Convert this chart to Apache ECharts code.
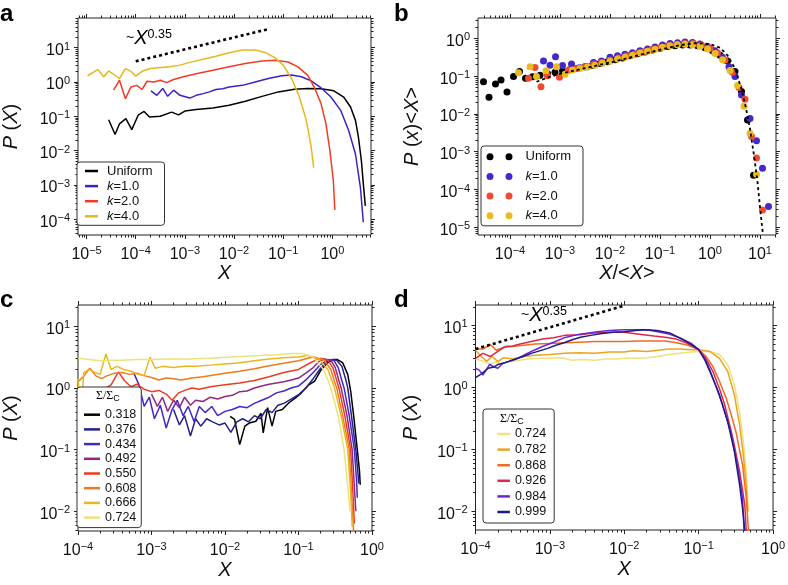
<!DOCTYPE html>
<html><head><meta charset="utf-8">
<script src="https://cdn.jsdelivr.net/npm/echarts@6/dist/echarts.min.js"></script>
<style>html,body{margin:0;padding:0;background:#fff}#c{width:788px;height:585px}</style>
</head><body><div id="c"></div><script>
// All values are log10 values read off the log–log panels: [log10 X, log10 P]
// ---- panel a ----
const a_uniform = [[-4.55,-1.10],[-4.42,-1.53],[-4.33,-1.22],[-4.20,-1.07],[-4.08,-1.39],[-3.95,-0.97],[-3.83,-0.86],[-3.72,-1.02],[-3.5,-1.0],[-3.27,-0.88],[-3.13,-0.96],[-3.0,-0.85],[-2.77,-0.80],[-2.43,-0.76],[-2.1,-0.68],[-1.77,-0.56],[-1.43,-0.42],[-1.1,-0.29],[-0.77,-0.21],[-0.5,-0.19],[-0.23,-0.20],[0.03,-0.26],[0.23,-0.44],[0.37,-0.73],[0.47,-1.12],[0.53,-1.61],[0.59,-2.29],[0.63,-2.97],[0.67,-3.61]];
const a_k1 = [[-3.69,-0.26],[-3.57,-0.39],[-3.45,-0.19],[-3.35,-0.42],[-3.23,-0.24],[-3.1,-0.39],[-2.9,-0.47],[-2.77,-0.39],[-2.63,-0.34],[-2.5,-0.29],[-2.37,-0.22],[-2.23,-0.20],[-2.1,-0.15],[-1.83,-0.10],[-1.57,0.0],[-1.3,0.10],[-1.03,0.18],[-0.83,0.20],[-0.63,0.15],[-0.43,0.03],[-0.23,-0.17],[-0.03,-0.44],[0.17,-0.83],[0.33,-1.41],[0.47,-2.10],[0.57,-3.07],[0.63,-4.09]];
const a_k2 = [[-4.45,-0.24],[-4.33,0.05],[-4.21,-0.49],[-4.1,-0.15],[-3.98,-0.10],[-3.87,-0.22],[-3.77,0.02],[-3.63,0.0],[-3.5,0.05],[-3.37,-0.02],[-3.23,0.07],[-3.03,0.15],[-2.77,0.24],[-2.43,0.34],[-2.1,0.44],[-1.77,0.54],[-1.43,0.61],[-1.17,0.63],[-0.9,0.58],[-0.7,0.44],[-0.5,0.19],[-0.37,-0.15],[-0.23,-0.63],[-0.13,-1.22],[-0.05,-2.0],[0.02,-2.88],[0.05,-3.73]];
const a_k4 = [[-4.98,0.18],[-4.77,0.36],[-4.65,0.15],[-4.55,0.32],[-4.33,0.10],[-4.21,0.39],[-4.1,0.31],[-4.0,0.17],[-3.87,0.31],[-3.7,0.39],[-3.5,0.42],[-3.3,0.44],[-3.1,0.49],[-2.9,0.57],[-2.63,0.66],[-2.37,0.75],[-2.1,0.85],[-1.83,0.93],[-1.57,0.93],[-1.37,0.86],[-1.17,0.71],[-1.0,0.49],[-0.83,0.10],[-0.67,-0.44],[-0.53,-1.12],[-0.43,-1.90],[-0.38,-2.50]];
const a_guide = [[-4.0,0.60],[-1.3,1.54]];
// ---- panel b (x = X/<X>) ----
const b_uniform = [[-4.53,-1.15],[-4.42,-1.56],[-4.29,-1.21],[-4.18,-1.10],[-4.06,-1.42],[-3.93,-1.01],[-3.81,-0.88],[-3.69,-1.06],[-3.55,-1.02],[-3.4,-0.98],[-3.25,-0.93],[-3.1,-0.9],[-2.95,-0.86],[-2.8,-0.83],[-2.65,-0.79],[-2.5,-0.75],[-2.35,-0.71],[-2.2,-0.67],[-2.05,-0.62],[-1.9,-0.57],[-1.75,-0.52],[-1.6,-0.46],[-1.45,-0.41],[-1.3,-0.36],[-1.15,-0.31],[-1.0,-0.26],[-0.85,-0.22],[-0.7,-0.2],[-0.55,-0.18],[-0.4,-0.18],[-0.25,-0.2],[-0.1,-0.25],[0.05,-0.33],[0.2,-0.45],[0.35,-0.6],[0.5,-0.88],[0.63,-1.41],[0.75,-2.16],[0.87,-3.62]];
const b_k1 = [[-3.33,-0.60],[-3.2,-0.71],[-3.09,-0.49],[-2.95,-0.72],[-2.77,-0.68],[-2.6,-0.78],[-2.45,-0.75],[-2.33,-0.64],[-2.17,-0.6],[-2.0,-0.5],[-1.85,-0.46],[-1.7,-0.42],[-1.55,-0.38],[-1.4,-0.33],[-1.25,-0.28],[-1.1,-0.23],[-0.95,-0.18],[-0.8,-0.14],[-0.65,-0.12],[-0.5,-0.1],[-0.35,-0.11],[-0.2,-0.15],[-0.05,-0.22],[0.1,-0.33],[0.25,-0.5],[0.38,-0.75],[0.5,-1.01],[0.63,-1.5],[0.8,-2.12],[0.93,-2.71],[1.05,-3.44],[1.17,-4.45]];
const b_k2 = [[-3.63,-1.06],[-3.5,-0.77],[-3.38,-1.28],[-3.25,-0.99],[-3.01,-1.03],[-2.83,-0.84],[-2.66,-0.8],[-2.5,-0.75],[-2.33,-0.69],[-2.17,-0.64],[-2.0,-0.58],[-1.83,-0.52],[-1.67,-0.47],[-1.5,-0.42],[-1.33,-0.36],[-1.17,-0.3],[-1.0,-0.25],[-0.83,-0.2],[-0.67,-0.16],[-0.5,-0.14],[-0.33,-0.14],[-0.17,-0.18],[0.0,-0.26],[0.15,-0.38],[0.3,-0.58],[0.45,-0.9],[0.58,-1.3],[0.7,-1.61],[0.83,-2.6],[0.93,-3.17],[1.05,-4.54]];
const b_k4 = [[-3.83,-0.91],[-3.6,-0.75],[-3.47,-1.01],[-3.28,-0.86],[-3.07,-0.75],[-2.9,-0.95],[-2.75,-0.84],[-2.6,-0.8],[-2.45,-0.76],[-2.3,-0.71],[-2.15,-0.66],[-2.0,-0.61],[-1.85,-0.55],[-1.7,-0.5],[-1.55,-0.45],[-1.4,-0.39],[-1.25,-0.34],[-1.1,-0.29],[-0.95,-0.24],[-0.8,-0.2],[-0.65,-0.17],[-0.5,-0.16],[-0.35,-0.17],[-0.2,-0.21],[-0.05,-0.28],[0.1,-0.4],[0.25,-0.57],[0.4,-0.85],[0.55,-1.25],[0.68,-1.8],[0.8,-2.51],[0.93,-3.6]];
const b_fit = [[-3.47,-1.15],[-3.2,-1.02],[-3.0,-0.94],[-2.5,-0.79],[-2.0,-0.64],[-1.5,-0.47],[-1.0,-0.3],[-0.6,-0.18],[-0.3,-0.13],[0.0,-0.15],[0.2,-0.25],[0.35,-0.45],[0.5,-0.8],[0.62,-1.3],[0.72,-1.85],[0.8,-2.4],[0.88,-3.1],[0.95,-3.8],[1.01,-4.6],[1.06,-5.2]];
// ---- panel c ----
const c_0318 = [[-1.93,-0.46],[-1.87,-0.51],[-1.8,-0.92],[-1.73,-0.62],[-1.67,-0.57],[-1.58,-0.54],[-1.51,-0.41],[-1.48,-0.73],[-1.42,-0.32],[-1.36,-0.62],[-1.31,-0.38],[-1.22,-0.35],[-1.13,-0.24],[-1.04,-0.16],[-0.96,-0.08],[-0.87,0.04],[-0.78,0.11],[-0.69,0.30],[-0.6,0.41],[-0.53,0.46],[-0.47,0.46],[-0.4,0.41],[-0.33,0.22],[-0.29,-0.05],[-0.25,-0.45],[-0.2,-1.0],[-0.17,-1.35],[-0.16,-1.57]];
const c_0376 = [[-2.7,-0.35],[-2.62,-0.6],[-2.55,-0.45],[-2.47,-0.78],[-2.4,-0.5],[-2.33,-0.62],[-2.25,-0.5],[-2.17,-0.55],[-2.08,-0.6],[-2.0,-0.57],[-1.92,-0.72],[-1.84,-0.55],[-1.76,-0.5],[-1.68,-0.55],[-1.6,-0.45],[-1.52,-0.5],[-1.44,-0.35],[-1.36,-0.4],[-1.28,-0.28],[-1.2,-0.25],[-1.1,-0.18],[-1.0,-0.11],[-0.9,0.0],[-0.8,0.15],[-0.7,0.32],[-0.62,0.42],[-0.55,0.46],[-0.48,0.45],[-0.41,0.35],[-0.36,0.15],[-0.33,0.0],[-0.28,-0.45],[-0.22,-1.0],[-0.19,-1.4],[-0.18,-1.55]];
const c_0434 = [[-3.24,0.24],[-3.17,0.05],[-3.1,-0.3],[-3.03,-0.15],[-2.96,-0.5],[-2.88,-0.28],[-2.8,-0.65],[-2.72,-0.35],[-2.65,-0.2],[-2.57,-0.45],[-2.5,-0.3],[-2.42,-0.55],[-2.35,-0.3],[-2.27,-0.4],[-2.18,-0.3],[-2.1,-0.45],[-2.0,-0.38],[-1.9,-0.35],[-1.8,-0.3],[-1.7,-0.32],[-1.6,-0.25],[-1.5,-0.2],[-1.4,-0.15],[-1.3,-0.08],[-1.2,-0.05],[-1.1,0.0],[-1.0,0.03],[-0.9,0.13],[-0.8,0.25],[-0.7,0.38],[-0.6,0.46],[-0.52,0.45],[-0.46,0.33],[-0.41,0.12],[-0.38,0.0],[-0.31,-0.45],[-0.24,-1.0],[-0.21,-1.5],[-0.2,-1.78]];
const c_0492 = [[-3.0,-0.1],[-2.92,-0.3],[-2.85,-0.15],[-2.78,-0.38],[-2.7,-0.2],[-2.62,-0.32],[-2.55,-0.15],[-2.47,-0.28],[-2.4,-0.2],[-2.3,-0.22],[-2.2,-0.15],[-2.1,-0.18],[-2.0,-0.14],[-1.9,-0.12],[-1.8,-0.06],[-1.7,-0.05],[-1.6,0.0],[-1.5,0.03],[-1.4,0.06],[-1.3,0.08],[-1.2,0.1],[-1.1,0.13],[-1.0,0.16],[-0.9,0.24],[-0.8,0.33],[-0.72,0.43],[-0.65,0.47],[-0.56,0.45],[-0.5,0.33],[-0.45,0.12],[-0.42,0.0],[-0.34,-0.45],[-0.27,-1.0],[-0.24,-1.6],[-0.22,-2.0]];
const c_0550 = [[-3.75,-0.05],[-3.65,-0.02],[-3.55,0.05],[-3.45,0.26],[-3.37,0.12],[-3.28,0.02],[-3.2,0.06],[-3.1,-0.02],[-3.0,-0.06],[-2.9,-0.04],[-2.8,-0.1],[-2.72,-0.2],[-2.63,-0.08],[-2.55,-0.04],[-2.45,0.0],[-2.35,-0.02],[-2.2,0.02],[-2.0,0.05],[-1.8,0.08],[-1.6,0.12],[-1.4,0.18],[-1.2,0.25],[-1.0,0.3],[-0.85,0.4],[-0.75,0.46],[-0.7,0.48],[-0.6,0.45],[-0.53,0.32],[-0.48,0.12],[-0.45,0.0],[-0.37,-0.45],[-0.29,-1.0],[-0.26,-1.7],[-0.24,-2.2]];
const c_0608 = [[-4.0,0.1],[-3.93,0.18],[-3.84,0.32],[-3.76,0.2],[-3.68,0.15],[-3.6,0.2],[-3.5,0.24],[-3.4,0.25],[-3.3,0.22],[-3.2,0.24],[-3.1,0.2],[-3.0,0.17],[-2.9,0.13],[-2.8,0.16],[-2.7,0.15],[-2.6,0.13],[-2.45,0.16],[-2.3,0.18],[-2.15,0.21],[-2.0,0.24],[-1.8,0.27],[-1.6,0.31],[-1.4,0.36],[-1.2,0.4],[-1.0,0.44],[-0.85,0.49],[-0.78,0.5],[-0.65,0.45],[-0.56,0.3],[-0.51,0.1],[-0.48,0.0],[-0.4,-0.45],[-0.31,-1.0],[-0.28,-1.7],[-0.25,-2.35]];
const c_0666 = [[-4.0,0.15],[-3.96,-0.35],[-3.92,0.25],[-3.85,0.3],[-3.77,0.25],[-3.7,0.22],[-3.62,0.55],[-3.55,0.3],[-3.47,0.35],[-3.38,0.3],[-3.28,0.27],[-3.18,0.22],[-3.1,0.2],[-3.02,0.5],[-2.95,0.32],[-2.85,0.35],[-2.7,0.33],[-2.55,0.35],[-2.4,0.35],[-2.2,0.37],[-2.0,0.39],[-1.8,0.41],[-1.6,0.44],[-1.4,0.47],[-1.2,0.49],[-1.0,0.5],[-0.87,0.53],[-0.72,0.46],[-0.6,0.3],[-0.54,0.1],[-0.51,0.0],[-0.42,-0.45],[-0.33,-1.0],[-0.29,-1.7],[-0.27,-2.25]];
const c_0724 = [[-4.0,0.48],[-3.85,0.46],[-3.7,0.44],[-3.55,0.45],[-3.4,0.45],[-3.2,0.46],[-3.0,0.46],[-2.8,0.47],[-2.5,0.47],[-2.2,0.48],[-1.9,0.5],[-1.6,0.52],[-1.3,0.54],[-1.1,0.56],[-0.95,0.56],[-0.8,0.5],[-0.66,0.3],[-0.59,0.1],[-0.56,0.0],[-0.46,-0.45],[-0.38,-1.0],[-0.33,-1.6],[-0.3,-2.0]];
// ---- panel d ----
const d_0724 = [[-4.0,0.45],[-3.93,0.44],[-3.86,0.4],[-3.8,0.38],[-3.72,0.41],[-3.65,0.38],[-3.55,0.42],[-3.45,0.43],[-3.3,0.46],[-3.15,0.47],[-3.0,0.47],[-2.85,0.48],[-2.7,0.44],[-2.55,0.45],[-2.4,0.44],[-2.25,0.46],[-2.1,0.46],[-2.0,0.47],[-1.85,0.47],[-1.7,0.48],[-1.55,0.5],[-1.4,0.53],[-1.25,0.55],[-1.1,0.57],[-1.0,0.58],[-0.85,0.58],[-0.72,0.53],[-0.61,0.37],[-0.52,0.04],[-0.45,-0.39],[-0.4,-0.87],[-0.36,-1.35],[-0.34,-1.78],[-0.33,-2.0]];
const d_0782 = [[-4.0,0.6],[-3.92,0.5],[-3.85,0.42],[-3.78,0.5],[-3.7,0.42],[-3.62,0.48],[-3.5,0.46],[-3.35,0.5],[-3.2,0.52],[-3.0,0.53],[-2.8,0.55],[-2.6,0.56],[-2.4,0.55],[-2.2,0.57],[-2.0,0.57],[-1.88,0.59],[-1.7,0.58],[-1.55,0.6],[-1.4,0.62],[-1.25,0.62],[-1.1,0.61],[-1.0,0.61],[-0.85,0.58],[-0.72,0.47],[-0.61,0.26],[-0.52,-0.12],[-0.45,-0.6],[-0.4,-1.09],[-0.36,-1.57],[-0.34,-2.0]];
const d_0868 = [[-4.0,0.62],[-3.9,0.62],[-3.8,0.69],[-3.72,0.6],[-3.62,0.65],[-3.5,0.66],[-3.35,0.68],[-3.2,0.7],[-3.0,0.71],[-2.8,0.72],[-2.6,0.73],[-2.4,0.74],[-2.2,0.74],[-2.0,0.74],[-1.8,0.75],[-1.6,0.75],[-1.45,0.75],[-1.3,0.72],[-1.17,0.69],[-1.0,0.61],[-0.9,0.5],[-0.81,0.34],[-0.72,0.1],[-0.63,-0.17],[-0.56,-0.45],[-0.5,-0.71],[-0.41,-1.25],[-0.36,-1.78],[-0.33,-2.32]];
const d_0926 = [[-4.0,0.47],[-3.9,0.55],[-3.8,0.5],[-3.7,0.58],[-3.6,0.66],[-3.5,0.67],[-3.4,0.7],[-3.25,0.74],[-3.1,0.78],[-2.95,0.8],[-2.8,0.84],[-2.6,0.85],[-2.4,0.88],[-2.2,0.89],[-2.0,0.89],[-1.8,0.86],[-1.6,0.83],[-1.45,0.81],[-1.3,0.78],[-1.17,0.72],[-1.0,0.61],[-0.9,0.46],[-0.81,0.26],[-0.72,-0.02],[-0.65,-0.28],[-0.54,-0.82],[-0.45,-1.35],[-0.38,-1.89],[-0.36,-2.32]];
const d_0984 = [[-4.0,0.31],[-3.95,0.28],[-3.9,0.2],[-3.81,0.37],[-3.75,0.33],[-3.7,0.31],[-3.63,0.39],[-3.55,0.42],[-3.45,0.46],[-3.35,0.52],[-3.25,0.58],[-3.1,0.66],[-2.95,0.73],[-2.81,0.8],[-2.6,0.86],[-2.36,0.9],[-2.2,0.92],[-2.0,0.93],[-1.88,0.93],[-1.7,0.93],[-1.55,0.9],[-1.4,0.86],[-1.25,0.8],[-1.1,0.71],[-1.0,0.61],[-0.92,0.48],[-0.85,0.28],[-0.76,0.0],[-0.68,-0.28],[-0.57,-0.71],[-0.48,-1.25],[-0.41,-1.78],[-0.39,-2.32]];
const d_0999 = [[-4.0,0.16],[-3.92,0.22],[-3.83,0.31],[-3.75,0.33],[-3.7,0.37],[-3.6,0.4],[-3.48,0.45],[-3.36,0.5],[-3.25,0.55],[-3.14,0.59],[-3.03,0.63],[-2.92,0.68],[-2.81,0.72],[-2.7,0.77],[-2.59,0.81],[-2.45,0.84],[-2.3,0.87],[-2.15,0.89],[-2.0,0.9],[-1.85,0.92],[-1.7,0.93],[-1.56,0.92],[-1.39,0.88],[-1.21,0.77],[-1.08,0.68],[-1.0,0.61],[-0.92,0.45],[-0.85,0.26],[-0.78,0.06],[-0.72,-0.12],[-0.61,-0.55],[-0.52,-1.03],[-0.45,-1.57],[-0.4,-2.05],[-0.38,-2.32]];
const d_guide = [[-4.0,0.62],[-2.0,1.32]];

const legendA = ['Uniform','k=1.0','k=2.0','k=4.0'];
const legendC = ['0.318','0.376','0.434','0.492','0.550','0.608','0.666','0.724'];
const legendD = ['0.724','0.782','0.868','0.926','0.984','0.999'];
const colorsA = ['#000000','#3b22c6','#f23a25','#e6b81c'];
const colorsB = ['#000000','#4528cc','#f04a30','#e8bd22'];
const colorsC = ['#000000','#23208f','#4428c8','#93287f','#ec3a25','#ee7a1c','#e8b620','#ece27e'];
const colorsD = ['#ede27c','#e9a520','#f06a24','#d9294a','#6c26d6','#1f1b86'];

const FONT = '"Liberation Sans", Arial, Helvetica, sans-serif';
const INK = '#111';

function supLabel(v){ const e = Math.round(v); return '{b|10}{s|' + (e < 0 ? '\u2212' + (-e) : String(e)) + '}'; }
const richTick = {
  b:{fontSize:16, fontFamily:FONT, color:INK, lineHeight:19},
  s:{fontSize:11, fontFamily:FONT, color:INK, lineHeight:10, verticalAlign:'top'}
};
function majors(lo, hi){ const r=[]; for(let e=Math.ceil(lo-1e-9); e<=Math.floor(hi+1e-9); e++) r.push(e); return r; }
function minors(lo, hi){ const r=[]; for(let e=Math.floor(lo); e<=Math.ceil(hi); e++) for(let k=2;k<=9;k++){ const v=e+Math.log10(k); if(v>lo && v<hi) r.push(v);} return r; }

function axisSet(dim, gi, lo, hi, nameCfg){
  const pos = dim === 'x' ? ['bottom','top'] : ['left','right'];
  const base = {gridIndex:gi, type:'value', min:lo, max:hi, scale:true,
    splitLine:{show:false}, axisLine:{show:false, onZero:false}, silent:true};
  const tick = (vals, len) => ({show:true, inside:false, length:len, customValues:vals, lineStyle:{color:'#222', width:1}});
  const noLab = {show:false};
  const main = Object.assign({}, base, {position:pos[0], axisTick:tick(majors(lo,hi),4),
    axisLabel:{show:true, customValues:majors(lo,hi), formatter:supLabel, rich:richTick,
      margin: dim==='x' ? 10 : 8, padding: dim==='x' ? 0 : [6,0,0,0], showMinLabel:true, showMaxLabel:true}});
  if (nameCfg) Object.assign(main, {name:nameCfg.text, nameLocation:'middle', nameGap:nameCfg.gap,
    nameTextStyle:{fontSize:20, fontFamily:FONT, color:INK, rich:{i:{fontStyle:'italic', fontSize:20, fontFamily:FONT, color:INK}}}});
  return [main,
    Object.assign({}, base, {position:pos[0], axisTick:tick(minors(lo,hi),2.5), axisLabel:noLab}),
    Object.assign({}, base, {position:pos[1], axisTick:tick(majors(lo,hi),4), axisLabel:noLab}),
    Object.assign({}, base, {position:pos[1], axisTick:tick(minors(lo,hi),2.5), axisLabel:noLab})];
}

const grids = [
  {left:73, top:18, width:298, height:217},
  {left:478, top:18, width:298, height:217},
  {left:72, top:305, width:300, height:226},
  {left:475.5, top:305, width:299.5, height:225}
].map(g => Object.assign({show:true, borderColor:'#222', borderWidth:1, backgroundColor:'transparent'}, g));

const xAxes = [].concat(
  axisSet('x',0,-5.174,0.786,{text:'{i|X}', gap:28}),
  axisSet('x',1,-4.64,1.32,{text:'{i|X}/<{i|X}>', gap:28}),
  axisSet('x',2,-4,0,{text:'{i|X}', gap:29}),
  axisSet('x',3,-4,0,{text:'{i|X}', gap:29}));
const yAxes = [].concat(
  axisSet('y',0,-4.46,1.863,{text:'{i|P} ({i|X})', gap:57}),
  axisSet('y',1,-5.204,0.537,{text:'{i|P} ({i|x})<{i|X}>', gap:56}),
  axisSet('y',2,-2.32,1.345,{text:'{i|P} ({i|X})', gap:57}),
  axisSet('y',3,-2.30,1.33,{text:'{i|P} ({i|X})', gap:54}));

function line(name, data, color, gi, w){
  return {type:'line', name, data, xAxisIndex:gi*4, yAxisIndex:gi*4, symbol:'none', showSymbol:false,
    lineStyle:{color, width:w||1.5}, itemStyle:{color}, clip:true, animation:false, silent:true, z:2};
}
function dots(name, data, color){
  return {type:'scatter', name, data, xAxisIndex:4, yAxisIndex:4, symbol:'circle', symbolSize:7,
    itemStyle:{color, opacity:1}, clip:true, animation:false, silent:true, z:2};
}
function guide(data, gi, w, dash){
  return {type:'line', data, xAxisIndex:gi*4, yAxisIndex:gi*4, symbol:'none', showSymbol:false,
    lineStyle:{color:'#000', width:w, type:dash}, clip:true, animation:false, silent:true, z:3};
}

const series = [];
[a_uniform,a_k1,a_k2,a_k4].forEach((d,i)=>series.push(line('a:'+legendA[i], d, colorsA[i], 0)));
series.push(guide(a_guide, 0, 2.6, [3,3]));
[b_uniform,b_k1,b_k2,b_k4].forEach((d,i)=>series.push(dots('b:'+legendA[i], d, colorsB[i])));
series.push(guide(b_fit, 1, 1.8, [3,3]));
[c_0318,c_0376,c_0434,c_0492,c_0550,c_0608,c_0666,c_0724].forEach((d,i)=>series.push(line('c:'+legendC[i], d, colorsC[i], 2)));
[d_0724,d_0782,d_0868,d_0926,d_0984,d_0999].forEach((d,i)=>series.push(line('d:'+legendD[i], d, colorsD[i], 3)));
series.push(guide(d_guide, 3, 2.6, [3,3]));

const legRich = {i:{fontStyle:'italic', fontSize:13, fontFamily:FONT, color:INK, lineHeight:14}};
function legFmt(name){ const s = name.slice(2); return s.indexOf('k=')===0 ? '{i|k}=' + s.slice(2) : s; }
const legBase = {orient:'vertical', selectedMode:false, borderColor:'#333', borderWidth:1, borderRadius:3,
  backgroundColor:'#fff', formatter:legFmt, z:10};
const twoDots = 'path://M0,3.5a3.5,3.5 0 1,0 7,0a3.5,3.5 0 1,0 -7,0M19,3.5a3.5,3.5 0 1,0 7,0a3.5,3.5 0 1,0 -7,0';
const legends = [
  Object.assign({}, legBase, {left:77, top:162, data:legendA.map(n=>'a:'+n), icon:'rect', itemWidth:13, itemHeight:2.5,
    itemGap:1.1, padding:[2,12,2,8], textStyle:{fontSize:13, fontFamily:FONT, color:INK, lineHeight:14, padding:[0,0,0,4], rich:legRich}}),
  Object.assign({}, legBase, {left:481, top:146, data:legendA.map(n=>'b:'+n), icon:twoDots, itemWidth:26, itemHeight:7,
    itemGap:5.7, padding:[3.7,12,3,5.5], textStyle:{fontSize:13, fontFamily:FONT, color:INK, lineHeight:14, padding:[0,0,0,8], rich:legRich}}),
  Object.assign({}, legBase, {left:77, top:387, data:legendC.map(n=>'c:'+n), icon:'rect', itemWidth:16, itemHeight:2.5,
    itemGap:0.7, padding:[20.7,5,3,7], textStyle:{fontSize:12.5, fontFamily:FONT, color:INK, lineHeight:14}}),
  Object.assign({}, legBase, {left:483, top:409, data:legendD.map(n=>'d:'+n), icon:'rect', itemWidth:12.5, itemHeight:2.5,
    itemGap:1.6, padding:[18,8,4,14.4], textStyle:{fontSize:12.5, fontFamily:FONT, color:INK, lineHeight:14}})
];

function panelLetter(t, x, y){ return {type:'text', left:x, top:y, z:20, style:{text:t, font:'bold 24px ' + FONT, fill:'#000'}}; }
const powRich = {
  t:{fontSize:14, fontFamily:FONT, color:INK, lineHeight:20},
  x:{fontSize:20, fontStyle:'italic', fontFamily:FONT, color:INK, lineHeight:20},
  s:{fontSize:12.5, fontFamily:FONT, color:INK, lineHeight:12, verticalAlign:'top'}
};
const sigRich = {
  a:{fontSize:12, fontFamily:'"Liberation Serif", "DejaVu Serif", serif', color:INK, lineHeight:14},
  b:{fontSize:9, fontFamily:FONT, color:INK, lineHeight:10, verticalAlign:'bottom'}
};
const graphic = [
  panelLetter('a', 0, 2), panelLetter('b', 394, 2), panelLetter('c', 0, 288), panelLetter('d', 394, 288),
  {type:'text', left:126, top:28, z:20, style:{text:'{t|~}{x|X}{s|0.35}', rich:powRich}},
  {type:'text', left:521, top:305, z:20, style:{text:'{t|~}{x|X}{s|0.35}', rich:powRich}},
  {type:'text', left:96, top:390, z:20, style:{text:'{a|\u03A3/\u03A3}{b|C}', rich:sigRich}},
  {type:'text', left:500, top:413, z:20, style:{text:'{a|\u03A3/\u03A3}{b|C}', rich:sigRich}}
];

const chart = echarts.init(document.getElementById('c'), null, {renderer:'canvas'});
chart.setOption({animation:false, backgroundColor:'#fff', grid:grids, xAxis:xAxes, yAxis:yAxes,
  series, legend:legends, graphic});
</script></body></html>
